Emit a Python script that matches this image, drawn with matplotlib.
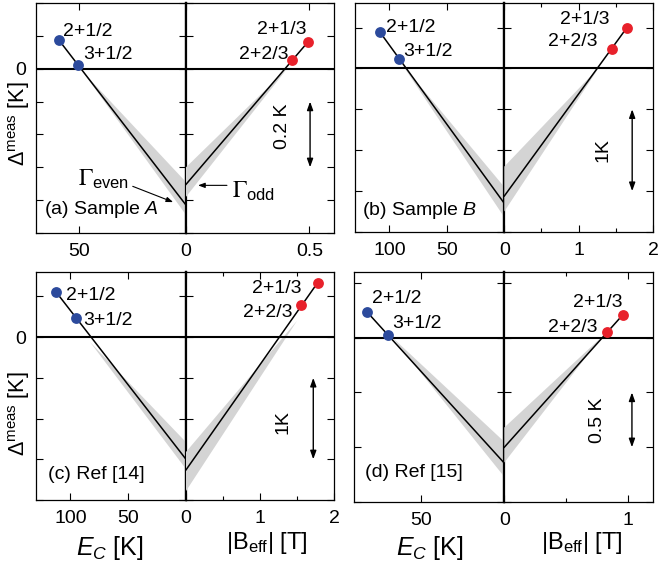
import numpy as np
import matplotlib.pyplot as plt
from matplotlib.patches import Polygon

plt.rcParams['font.family'] = ['Liberation Sans', 'DejaVu Sans']
plt.rcParams['mathtext.fontset'] = 'custom'
plt.rcParams['mathtext.rm'] = 'Liberation Sans'
plt.rcParams['mathtext.it'] = 'Liberation Sans:italic'
plt.rcParams['mathtext.sf'] = 'Liberation Sans'

# ---------------- data ----------------
panel_tags = ['(a) Sample $A$', '(b) Sample $B$', '(c) Ref [14]', '(d) Ref [15]']
ec_max = [70, 130, 130, 90]              # E_C axis (left half, reversed)
b_max = [0.6, 2.0, 2.0, 1.2]             # |B_eff| axis (right half)
y_lims = [(-0.5, 0.2), (-2.0, 0.8), (-2.0, 0.8), (-1.5, 0.6)]
y_step = [0.1, 0.5, 0.5, 0.5]
ec_ticks = [[50, 0], [100, 50, 0], [100, 50, 0], [50, 0]]
b_ticks = [[0, 0.5], [0, 1, 2], [0, 1, 2], [0, 1]]
b_minor = [[], [0.5, 1.5], [0.5, 1.5], [0.5]]

even_labels = ['2+1/2', '3+1/2']
odd_labels = ['2+1/3', '2+2/3']
ec_vals = [[59.3, 50.4], [108.6, 92.1], [112.7, 95.3], [82.4, 69.8]]
ec_delta = [[0.088, 0.012], [0.45, 0.12], [0.56, 0.24], [0.236, 0.027]]
b_vals = [[0.495, 0.43], [1.65, 1.45], [1.78, 1.55], [0.957, 0.828]]
b_delta = [[0.082, 0.027], [0.50, 0.24], [0.67, 0.39], [0.21, 0.055]]

# fitted lines: value at E_C = 0 and |B| = 0
gamma_even0 = [-0.415, -1.65, -1.50, -1.145]
gamma_odd0 = [-0.352, -1.56, -1.63, -1.0]

# uncertainty bands: thin end (x, y) and (upper, lower) at x = 0
even_band_tip = [(48, -0.01), (89, 0.05), (83, -0.06), (67, 0.0)]
even_band_0 = [(-0.345, -0.445), (-1.45, -1.82), (-1.29, -1.62), (-0.95, -1.27)]
odd_band_tip = [(0.41, 0.0), (1.28, 0.02), (1.5, 0.2), (0.78, 0.0)]
odd_band_0 = [(-0.30, -0.39), (-1.2, -1.75), (-1.41, -1.89), (-0.82, -1.14)]

scale_size = [0.2, 1.0, 1.0, 0.5]
scale_text = ['0.2 K', '1K', '1K', '0.5 K']

# ---------------- layout (pixels) ----------------
W, H = 658, 571
frames = [(35.7, 186, 334, 3, 233), (355, 504.3, 653, 3, 232),
          (35.7, 186, 334, 272, 500), (354.3, 504.3, 653, 272, 502)]
even_off = [[(4, 8), (5, 10)], [(6, 4), (5, 7)], [(10, -4), (7, -3)], [(5, 13), (4, 11)]]
odd_off = [[(-2, 12), (-4, 5)], [(-17, 8), (-15, 7)], [(-16, -6), (-8, -7)], [(0, 12), (-9, 4)]]
tag_pos = [(0.055, 0.10), (0.047, 0.096), (0.08, 0.11), (0.071, 0.13)]
scale_x = [0.503, 1.72, 1.72, 1.03]
scale_top = [-0.1, -0.5, -0.5, -0.5]
scale_txt_pos = [(0.39, -0.176), (1.33, -1.0), (1.31, -1.04), (0.755, -0.75)]

blue = '#2c4a9c'
red = '#e8212b'
band_col = '#d4d4d4'

fig = plt.figure(figsize=(W / 100, H / 100), dpi=100)


def px_axes(x0, x1, y0, y1):
    return fig.add_axes([x0 / W, 1 - y1 / H, (x1 - x0) / W, (y1 - y0) / H])


def style(ax):
    ax.tick_params(which='both', direction='in', top=True, right=True,
                   labelsize=14, pad=7, width=0.8)
    ax.tick_params(which='major', length=5)
    ax.tick_params(which='minor', length=3)
    for s in ax.spines.values():
        s.set_linewidth(0.9)


px = 0.72  # points per pixel
for i in range(4):
    x0, xc, x1, y0, y1 = frames[i]
    axl = px_axes(x0, xc, y0, y1)
    axr = px_axes(xc, x1, y0, y1)
    for ax in (axl, axr):
        style(ax)
        ax.set_ylim(*y_lims[i])
        yt = np.arange(np.ceil(y_lims[i][0] / y_step[i]), np.floor(y_lims[i][1] / y_step[i]) + 1) * y_step[i]
        ax.set_yticks(yt)
        ax.set_yticklabels(['0' if abs(v) < 1e-9 and ax is axl and i in (0, 2) else '' for v in yt])
        ax.axhline(0, color='k', lw=1.5, zorder=3.5)
    axl.spines['right'].set_linewidth(1.6)
    axr.spines['left'].set_linewidth(1.6)

    axl.set_xlim(ec_max[i], 0)
    axl.set_xticks(ec_ticks[i])
    axl.set_xticklabels([f'{v:g}' for v in ec_ticks[i]])
    axr.set_xlim(0, b_max[i])
    axr.set_xticks(b_ticks[i])
    axr.set_xticklabels(['' if v == 0 else f'{v:g}' for v in b_ticks[i]])
    axr.set_xticks(b_minor[i], minor=True)

    # bands
    tx, ty = even_band_tip[i]
    axl.add_patch(Polygon([(tx, ty), (0, even_band_0[i][0]), (0, even_band_0[i][1])],
                          closed=True, fc=band_col, ec='none', zorder=3))
    tx, ty = odd_band_tip[i]
    axr.add_patch(Polygon([(tx, ty), (0, odd_band_0[i][0]), (0, odd_band_0[i][1])],
                          closed=True, fc=band_col, ec='none', zorder=3))

    # fitted lines
    axl.plot([0, ec_vals[i][0]], [gamma_even0[i], ec_delta[i][0]], color='k', lw=1.1, zorder=4)
    axr.plot([0, b_vals[i][0]], [gamma_odd0[i], b_delta[i][0]], color='k', lw=1.1, zorder=4)

    # points
    axl.plot(ec_vals[i], ec_delta[i], 'o', color=blue, ms=7.8, mec='none', zorder=5, clip_on=False)
    axr.plot(b_vals[i], b_delta[i], 'o', color=red, ms=7.8, mec='none', zorder=5, clip_on=False)
    for k in range(2):
        dx, dy = even_off[i][k]
        axl.annotate(even_labels[k], (ec_vals[i][k], ec_delta[i][k]), xytext=(dx * px, dy * px),
                     textcoords='offset points', ha='left', va='center', fontsize=14)
        dx, dy = odd_off[i][k]
        axr.annotate(odd_labels[k], (b_vals[i][k], b_delta[i][k]), xytext=(dx * px, dy * px),
                     textcoords='offset points', ha='right', va='center', fontsize=14)

    axl.text(tag_pos[i][0], tag_pos[i][1], panel_tags[i], transform=axl.transAxes,
             ha='left', va='center', fontsize=14)

    # scale arrow
    axr.annotate('', xy=(scale_x[i], scale_top[i] - scale_size[i]), xytext=(scale_x[i], scale_top[i]),
                 arrowprops=dict(arrowstyle='<|-|>,head_length=0.5,head_width=0.18', color='k',
                                 lw=1.0, shrinkA=0, shrinkB=0))
    axr.text(scale_txt_pos[i][0], scale_txt_pos[i][1], scale_text[i], rotation=90,
             ha='center', va='center', fontsize=14)

    if i == 0:
        axl.annotate('', xy=(6, -0.406), xytext=(24.8, -0.358),
                     arrowprops=dict(arrowstyle='-|>,head_length=0.4,head_width=0.15',
                                     color='k', lw=0.8, shrinkA=0, shrinkB=0))
        axl.text(50.5, -0.336, r'$\Gamma_{\mathregular{even}}$', math_fontfamily='stix',
                 ha='left', va='center', fontsize=17)
        axr.annotate('', xy=(0.049, -0.355), xytext=(0.166, -0.355),
                     arrowprops=dict(arrowstyle='-|>,head_length=0.4,head_width=0.15',
                                     color='k', lw=0.8, shrinkA=0, shrinkB=0))
        axr.text(0.186, -0.373, r'$\Gamma_{\mathregular{odd}}$', math_fontfamily='stix',
                 ha='left', va='center', fontsize=17)

# axis labels
for (xe, xb) in [(110, 267), (430, 582)]:
    fig.text(xe / W, 1 - 548 / H, r'$E_C$ [K]', ha='center', va='center', fontsize=18)
    fig.text(xb / W, 1 - 543 / H, r'|B$_{\mathrm{eff}}$| [T]', ha='center', va='center', fontsize=17)
for yc in (124, 414):
    fig.text(19 / W, 1 - yc / H, r'$\Delta^{\mathrm{meas}}$ [K]', rotation=90,
             ha='center', va='center', fontsize=15.5)

fig.savefig('out.png', dpi=100)
